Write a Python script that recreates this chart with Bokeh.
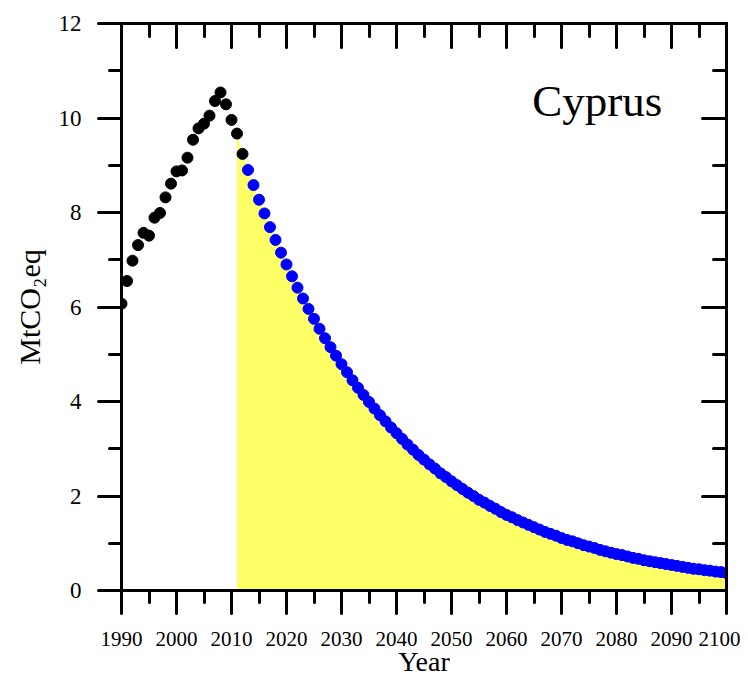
from bokeh.plotting import figure
from bokeh.models import Range1d, SingleIntervalTicker, LinearAxis, Label, CustomJSTickFormatter
from bokeh.embed import file_html
from bokeh.resources import INLINE

# ---- data ----
hist_years = list(range(1990, 2013))
hist_values = [6.07, 6.55, 6.98, 7.31, 7.57, 7.51, 7.89, 7.99, 8.32, 8.61,
               8.87, 8.89, 9.16, 9.54, 9.78, 9.88, 10.05, 10.36, 10.54, 10.29,
               9.96, 9.67, 9.24]

proj_years = list(range(2013, 2101))
proj_values = [8.90, 8.58, 8.27, 7.98, 7.69, 7.42, 7.15, 6.90, 6.65, 6.41,
               6.18, 5.96, 5.75, 5.54, 5.34, 5.15, 4.97, 4.79, 4.62, 4.45,
               4.29, 4.14, 3.99, 3.85, 3.71, 3.58, 3.45, 3.33, 3.21, 3.09,
               2.98, 2.87, 2.77, 2.67, 2.58, 2.48, 2.40, 2.31, 2.23, 2.15,
               2.07, 2.00, 1.92, 1.86, 1.79, 1.73, 1.66, 1.60, 1.55, 1.49,
               1.44, 1.39, 1.34, 1.29, 1.24, 1.20, 1.16, 1.11, 1.07, 1.04,
               1.00, 0.96, 0.93, 0.90, 0.86, 0.83, 0.80, 0.77, 0.75, 0.72,
               0.69, 0.67, 0.64, 0.62, 0.60, 0.58, 0.56, 0.54, 0.52, 0.50,
               0.48, 0.46, 0.45, 0.43, 0.42, 0.40, 0.39, 0.37]

# yellow area: from 2011 onward
fill_years = [2011, 2012] + proj_years
fill_values = [9.67, 9.24] + proj_values

country = "Cyprus"
x_title = "Year"
y_title = "MtCO\u2082eq"
FONT = "Liberation Serif"

p = figure(width=740, height=680, output_backend="svg", toolbar_location=None,
           x_range=Range1d(1990, 2100), y_range=Range1d(0, 12),
           min_border_left=121, min_border_right=14, min_border_top=23,
           min_border_bottom=90, x_axis_location=None, y_axis_location=None)
p.outline_line_color = None
p.xgrid.visible = False
p.ygrid.visible = False
p.background_fill_color = "white"
p.border_fill_color = "white"

p.varea(x=fill_years, y1=[0] * len(fill_years), y2=fill_values,
        fill_color="#ffff66", fill_alpha=1.0)
p.scatter(x=hist_years, y=hist_values, size=11, fill_color="black",
          line_color="black")
p.scatter(x=proj_years, y=proj_values, size=11, fill_color="#0000ff",
          line_color="#0000ff")


def style(ax, out, labels):
    ax.axis_line_width = 3
    ax.axis_line_color = "black"
    ax.major_tick_line_width = 3
    ax.minor_tick_line_width = 3
    ax.major_tick_line_cap = "round"
    ax.minor_tick_line_cap = "round"
    if out:
        ax.major_tick_out = 23
        ax.major_tick_in = 0
        ax.minor_tick_out = 12
        ax.minor_tick_in = 0
    else:
        ax.major_tick_out = 0
        ax.major_tick_in = 24
        ax.minor_tick_out = 0
        ax.minor_tick_in = 13
    if not labels:
        ax.formatter = CustomJSTickFormatter(code="return '';")
        ax.major_label_standoff = 0
    ax.major_label_text_font = FONT
    ax.major_label_text_color = "black"
    ax.axis_label_text_font = FONT
    ax.axis_label_text_font_style = "normal"
    ax.axis_label_text_color = "black"


xt = SingleIntervalTicker(interval=10, num_minor_ticks=2)
yt = SingleIntervalTicker(interval=2, num_minor_ticks=2)

bottom = LinearAxis(ticker=xt, axis_label=x_title)
style(bottom, True, True)
bottom.major_label_text_font_size = "21px"
bottom.major_label_standoff = 18
bottom.axis_label_text_font_size = "28px"
bottom.axis_label_standoff = -3
p.add_layout(bottom, "below")

left = LinearAxis(ticker=yt, axis_label=y_title)
style(left, True, True)
left.major_label_text_font_size = "23px"
left.major_label_standoff = 17
left.axis_label_text_font_size = "30px"
left.axis_label_standoff = 10
p.add_layout(left, "left")

top = LinearAxis(ticker=SingleIntervalTicker(interval=10, num_minor_ticks=2))
style(top, False, False)
p.add_layout(top, "above")

right = LinearAxis(ticker=SingleIntervalTicker(interval=2, num_minor_ticks=2))
style(right, False, False)
p.add_layout(right, "right")

p.add_layout(Label(x=2076.5, y=10.37, text=country, text_font=FONT,
                   text_font_size="45px", text_align="center",
                   text_baseline="alphabetic", text_color="black"))

open("out.html", "w").write(file_html(p, INLINE))
